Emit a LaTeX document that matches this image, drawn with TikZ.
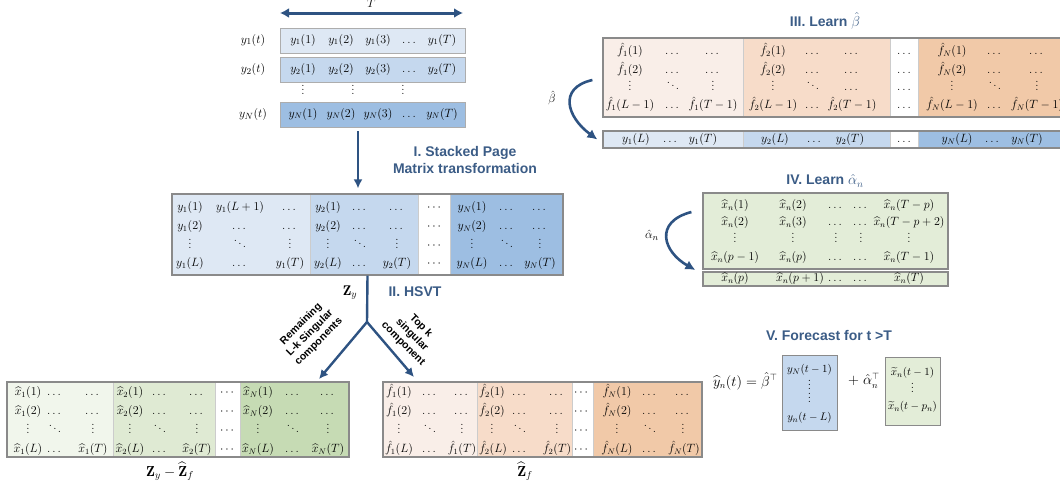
\documentclass[tikz,border=0pt]{standalone}
\usepackage{amsmath,amssymb}
\usepackage{fontspec}
\setsansfont{Liberation Sans}
\usepackage{xcolor}
\usepackage{tikz}
\usetikzlibrary{arrows.meta,calc,positioning}
\definecolor{blueA}{HTML}{DEE8F4}
\definecolor{blueB}{HTML}{C5D8EE}
\definecolor{blueC}{HTML}{9DBEE2}
\definecolor{greenA}{HTML}{F1F6EC}
\definecolor{greenB}{HTML}{DFEAD3}
\definecolor{greenC}{HTML}{C6DBB4}
\definecolor{greenD}{HTML}{E3EDD8}
\definecolor{peachA}{HTML}{F9EEE8}
\definecolor{peachB}{HTML}{F7DCC9}
\definecolor{peachC}{HTML}{F1C9A8}
\definecolor{arrowblue}{HTML}{2E5382}
\definecolor{titleblue}{HTML}{3B5C86}
\definecolor{framegray}{HTML}{8A8A8A}
\newcommand{\fhat}{\hat{f}}
\newcommand{\xhat}{\widehat{x}}
\newcommand{\mrow}[3]{\foreach \x/\lab in {#3} {\node[ent] (#1-\x) at (\x,#2) {$\lab$};}}

\begin{document}
\begin{tikzpicture}[x=1pt,y=-1pt,>=Latex,
  ent/.style={font=\fontsize{11.8}{13}\selectfont,inner sep=0pt,text height=8pt,text depth=2.8pt},
  mframe/.style={draw=framegray,line width=1.2pt,inner sep=0pt},
  rowbox/.style={draw=framegray!70,line width=0.8pt,inner sep=0pt,minimum width=185pt,minimum height=25pt},
  blk/.style={draw=gray!40,line width=0.4pt},
  steptitle/.style={font=\sffamily\bfseries\fontsize{14}{17}\selectfont,text=titleblue,align=center},
  sidenote/.style={font=\sffamily\bfseries\fontsize{10.5}{12.5}\selectfont,align=center,inner sep=0pt},
  bigarrow/.style={draw=arrowblue,line width=2.4pt,-{Latex[length=9pt,width=9pt]}},
  curvearrow/.style={draw=arrowblue,line width=2.6pt,-{Latex[length=10pt,width=10pt]}}]
  \useasboundingbox (0,0) rectangle (1060,490);

  % input series
  \coordinate (tl) at (280,13);
  \coordinate (tr) at (463,13);
  \draw[arrowblue,line width=3pt,{Latex[length=9pt,width=10pt]}-{Latex[length=9pt,width=10pt]}]
    (tl) -- (tr) node[midway,above=1pt,text=black,font=\large] (tlab) {$T$};
  \foreach \rr/\yy/\cc in {1/40.5/blueA,2/70/blueB,N/114.5/blueC} {
    \node[rowbox,fill=\cc] (row\rr) at (372.5,\yy) {};
    \node[ent,font=\fontsize{12.5}{14}\selectfont] (lab\rr) at (253,\yy) {$y_\rr(t)$};
    \mrow{s\rr}{\yy}{303/y_\rr(1),341/y_\rr(2),378/y_\rr(3),410/\dots,442/y_\rr(T)}
  }
  \foreach \x in {303,353,403}
    \node[ent] (sv\x) at (\x,92) {$\vdots$};

  % stacked page matrix
  \foreach \a/\b/\c in {172/310/blueA,310/418/blueB,418/450/white,450/563/blueC}
    \filldraw[blk,fill=\c] (\a,194) rectangle (\b,275);
  \node[mframe,minimum width=391pt,minimum height=81pt] (stack) at (367.5,234.5) {};
  \mrow{z1}{208}{190/y_1(1),240/y_1(L+1),290/\dots,328/y_2(1),360/\dots,397/\dots,435/\cdots,472/y_N(1),507/\dots,540/\dots}
  \mrow{z2}{227}{190/y_1(2),240/\dots,290/\dots,328/y_2(2),360/\dots,397/\dots,435/\cdots,472/y_N(2),507/\dots,540/\dots}
  \mrow{z3}{246}{190/\vdots,240/\ddots,290/\vdots,328/\vdots,360/\ddots,397/\vdots,435/\cdots,472/\vdots,507/\ddots,540/\vdots}
  \mrow{z4}{264}{190/y_1(L),240/\dots,290/y_1(T),328/y_2(L),360/\dots,397/y_2(T),435/\cdots,472/y_N(L),507/\dots,540/y_N(T)}
  \node[font=\fontsize{14}{16}\selectfont] (zy) at (350,293) {$\mathbf{Z}_y$};

  \draw[bigarrow] ([xshift=-14.5pt,yshift=-4pt]rowN.south) -- ([xshift=-9.5pt,yshift=5pt]stack.north);
  \node[steptitle] (t1) at (465,160) {I. Stacked Page\\Matrix transformation};
  \node[steptitle] (t2) at (415,292) {II. HSVT};

  % HSVT split
  \coordinate (split) at (367,322);
  \coordinate (xtip) at (319,379);
  \coordinate (ftip) at (414,377);
  \draw[arrowblue,line width=2.4pt] (stack.south) -- (split);
  \draw[bigarrow] (split) -- (xtip);
  \draw[bigarrow] (split) -- (ftip);
  \node[sidenote,rotate=45] (rem) at (310,333) {Remaining\\L-k Singular\\components};
  \node[sidenote,rotate=-45] (topk) at (412,335) {Top k\\singular\\component};

  % residual matrix
  \foreach \a/\b/\c in {7/113/greenA,113/215/greenB,215/240/white,240/349/greenC}
    \filldraw[blk,fill=\c] (\a,382) rectangle (\b,457);
  \node[mframe,minimum width=342pt,minimum height=75pt] (xmat) at (178,419.5) {};
  \mrow{x1}{393}{28/\xhat_1(1),55/\dots,93/\dots,130/\xhat_2(1),160/\dots,197/\dots,228/\cdots,258/\xhat_N(1),293/\dots,328/\dots}
  \mrow{x2}{412}{28/\xhat_1(2),55/\dots,93/\dots,130/\xhat_2(2),160/\dots,197/\dots,228/\cdots,258/\xhat_N(2),293/\dots,328/\dots}
  \mrow{x3}{431}{28/\vdots,55/\ddots,93/\vdots,130/\vdots,160/\ddots,197/\vdots,228/\cdots,258/\vdots,293/\ddots,328/\vdots}
  \mrow{x4}{450}{28/\xhat_1(L),55/\dots,93/\xhat_1(T),130/\xhat_2(L),160/\dots,197/\xhat_2(T),228/\cdots,258/\xhat_N(L),293/\dots,328/\xhat_N(T)}
  \node[font=\fontsize{14.5}{16}\selectfont] (zx) at (170,471) {$\mathbf{Z}_y - \widehat{\mathbf{Z}}_f$};

  % top-k matrix
  \foreach \a/\b/\c in {383/477/peachA,477/572/peachB,572/593/white,593/702/peachC}
    \filldraw[blk,fill=\c] (\a,382) rectangle (\b,457);
  \node[mframe,minimum width=319pt,minimum height=75pt] (fmat) at (542.5,419.5) {};
  \mrow{f1}{393}{399/\fhat_1(1),430/\dots,462/\dots,492/\fhat_2(1),520/\dots,557/\dots,582/\cdots,617/\fhat_N(1),650/\dots,683/\dots}
  \mrow{f2}{412}{399/\fhat_1(2),430/\dots,462/\dots,492/\fhat_2(2),520/\dots,557/\dots,582/\cdots,617/\fhat_N(2),650/\dots,683/\dots}
  \mrow{f3}{431}{399/\vdots,430/\ddots,462/\vdots,492/\vdots,520/\ddots,557/\vdots,582/\cdots,617/\vdots,650/\ddots,683/\vdots}
  \mrow{f4}{450}{399/\fhat_1(L),430/\dots,462/\fhat_1(T),493/\fhat_2(L),520/\dots,557/\fhat_2(T),582/\cdots,617/\fhat_N(L),650/\dots,684/\fhat_N(T)}
  \node[font=\fontsize{14.5}{16}\selectfont] (zf) at (525,471) {$\widehat{\mathbf{Z}}_f$};

  % III. learn beta
  \node[steptitle] (t3) at (825,21) {III. Learn $\hat{\beta}$};
  \foreach \a/\b/\c in {603/743/peachA,743/890/peachB,890/918/white,918/1075/peachC} {
    \filldraw[blk,fill=\c] (\a,38) rectangle (\b,117);
  }
  \foreach \a/\b/\c in {603/743/blueA,743/890/blueB,890/918/white,918/1075/blueC} {
    \filldraw[blk,fill=\c] (\a,131) rectangle (\b,148);
  }
  \node[mframe,minimum width=472pt,minimum height=79pt] (bmat) at (839,77.5) {};
  \node[mframe,minimum width=472pt,minimum height=17pt] (brow) at (839,139.5) {};
  \mrow{b1}{52}{630/\fhat_1(1),673/\dots,713/\dots,773/\fhat_2(1),813/\dots,852/\dots,905/\dots,952/\fhat_N(1),995/\dots,1037/\dots}
  \mrow{b2}{71}{630/\fhat_1(2),673/\dots,713/\dots,773/\fhat_2(2),813/\dots,852/\dots,905/\dots,952/\fhat_N(2),995/\dots,1037/\dots}
  \mrow{b3}{88}{630/\vdots,673/\ddots,713/\vdots,773/\vdots,813/\ddots,852/\dots,905/\dots,952/\vdots,995/\ddots,1037/\vdots}
  \mrow{b4}{106}{630/\fhat_1(L-1),673/\dots,713/\fhat_1(T-1),773/\fhat_2(L-1),813/\dots,852/\fhat_2(T-1),905/\dots,952/\fhat_N(L-1),995/\dots,1037/\fhat_N(T-1)}
  \mrow{br}{140}{636/y_1(L),671/\dots,703/y_1(T),775/y_2(L),815/\dots,850/y_2(T),905/\dots,957/y_N(L),993/\dots,1027/y_N(T)}
  \draw[curvearrow] ([shift={(-10pt,-2.5pt)}]bmat.west) .. controls +(-35,8) and +(-30,-22) .. ([xshift=-5pt]brow.west);
  \node[font=\fontsize{13}{15}\selectfont] (blab) at (552,98) {$\hat{\beta}$};

  % IV. learn alpha
  \node[steptitle] (t4) at (825,181) {IV. Learn $\hat{\alpha}_n$};
  \node[mframe,fill=greenD,minimum width=245pt,minimum height=76pt] (amat) at (825.5,231) {};
  \node[mframe,fill=greenD,minimum width=245pt,minimum height=14pt] (arow) at (825.5,279) {};
  \mrow{a1}{206}{735/\xhat_n(1),793/\xhat_n(2),836/\dots,861/\dots,909/\xhat_n(T-p)}
  \mrow{a2}{223}{735/\xhat_n(2),793/\xhat_n(3),836/\dots,861/\dots,909/\xhat_n(T-p+2)}
  \mrow{a3}{240}{735/\vdots,793/\vdots,836/\vdots,861/\vdots,909/\vdots}
  \mrow{a4}{258}{735/\xhat_n(p-1),793/\xhat_n(p),836/\dots,861/\dots,909/\xhat_n(T-1)}
  \mrow{ar}{279}{735/\xhat_n(p),800/\xhat_n(p+1),836/\dots,861/\dots,909/\xhat_n(T)}
  \draw[curvearrow] ([shift={(-11pt,19pt)}]amat.west) .. controls +(-38,10) and +(-32,-18) .. ([shift={(-7pt,9pt)}]arow.west);
  \node[font=\fontsize{13}{15}\selectfont] (alab) at (652,235) {$\hat{\alpha}_n$};

  % V. forecast
  \node[steptitle] (t5) at (829,335) {V. Forecast for t >T};
  \node[mframe,line width=0.9pt,fill=blueB,minimum width=55pt,minimum height=75pt] (ybox) at (809.5,392.5) {};
  \node[mframe,line width=0.9pt,fill=greenD,minimum width=55pt,minimum height=68pt] (xbox) at (912.5,391) {};
  \node[anchor=east,font=\fontsize{13.5}{15}\selectfont] (eqy) at (781,381) {$\widehat{y}_n(t) = \hat{\beta}^{\top}$};
  \node[font=\fontsize{13.5}{15}\selectfont] (eqa) at (864,381) {$+\;\hat{\alpha}_n^{\top}$};
  \node[ent,font=\fontsize{11}{12}\selectfont] (y1) at (809.5,370) {$y_N(t-1)$};
  \node[ent] (yv1) at (809.5,387) {$\vdots$};
  \node[ent] (yv2) at (809.5,400) {$\vdots$};
  \node[ent,font=\fontsize{11}{12}\selectfont] (y2) at (809.5,418) {$y_n(t-L)$};
  \node[ent,font=\fontsize{11}{12}\selectfont] (x1) at (912.5,373) {$\widetilde{x}_n(t-1)$};
  \node[ent] (xv) at (912.5,390) {$\vdots$};
  \node[ent,font=\fontsize{11}{12}\selectfont] (x2) at (912.5,407) {$\widetilde{x}_n(t-p_n)$};
\end{tikzpicture}
\end{document}
